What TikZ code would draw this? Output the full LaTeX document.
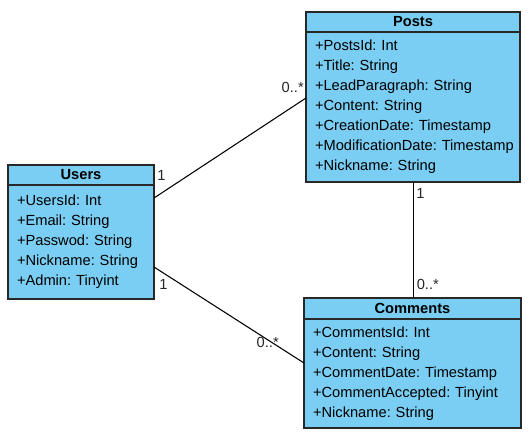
\documentclass[tikz,border=0pt]{standalone}
\usepackage{fontspec}
\setmainfont{Liberation Sans}
\usepackage{tikz}
\usetikzlibrary{positioning}
\usetikzlibrary{calc}
\definecolor{umlblue}{RGB}{122,206,243}
\definecolor{umlline}{RGB}{40,40,40}
\frenchspacing
\hyphenpenalty=10000

\begin{document}
\begin{tikzpicture}
  [x=0.75pt,y=-0.75pt,
  classhead/.style={rectangle,draw=umlline,fill=umlblue,line width=1pt,inner sep=0pt,outer sep=0pt,font=\fontsize{11}{13}\selectfont\bfseries,anchor=north west},
  classbody/.style={rectangle,draw=umlline,fill=umlblue,line width=1pt,inner xsep=6.75pt,inner ysep=0pt,outer sep=0pt,align=left,font=\fontsize{11}{15}\selectfont},
  assoc/.style={draw=black,line width=0.8pt},
  mult/.style={inner sep=0pt,font=\fontsize{11}{13}\selectfont,text=black!85}]
  \useasboundingbox (0,0) rectangle (530,440);

  \node[classhead,minimum width=160.5pt,minimum height=15pt] (phead) at (306,12) {Posts};
  \node[classbody,below=0pt of phead,text width=147pt,minimum height=112.5pt] (pbody)
    {+PostsId:~Int\\+Title:~String\\+LeadParagraph:~String\\+Content:~String\\+CreationDate:~Timestamp\\+ModificationDate:~Timestamp\\+Nickname:~String};

  \node[classhead,minimum width=109.5pt,minimum height=15pt] (uhead) at (8,165) {Users};
  \node[classbody,below=0pt of uhead,text width=96pt,minimum height=85.5pt] (ubody)
    {+UsersId:~Int\\+Email:~String\\+Passwod:~String\\+Nickname:~String\\+Admin:~Tinyint};

  \node[classhead,minimum width=162.75pt,minimum height=15.75pt] (chead) at (304,298) {Comments};
  \node[classbody,below=0pt of chead,text width=149.25pt,minimum height=81.75pt] (cbody)
    {+CommentsId:~Int\\+Content:~String\\+CommentDate:~Timestamp\\+CommentAccepted:~Tinyint\\+Nickname:~String};

  \draw [assoc] ([shift={(0,13)}]ubody.north east) -- ([shift={(0,66)}]pbody.north west);
  \draw [assoc] ([shift={(0,82)}]ubody.north east) -- ([shift={(0,44)}]cbody.north west);
  \draw [assoc] ([shift={(0.5,0)}]pbody.south) -- ([shift={(0.5,0)}]pbody.south |- chead.north);

  \node[mult,anchor=south west] (m1) at ([shift={(3,-4)}]ubody.north east) {1};
  \node[mult,anchor=south east] (m2) at ([shift={(-2,61)}]pbody.north west) {0..*};
  \node[mult,anchor=south west] (m3) at ([shift={(5,-9)}]ubody.south east) {1};
  \node[mult,anchor=south east] (m4) at ([shift={(-25,29)}]cbody.north west) {0..*};
  \node[mult,anchor=north west] (m5) at ([shift={(3,6)}]pbody.south) {1};
  \node[mult,anchor=south west] (m6) at ([shift={(4,-8)}]chead.north) {0..*};

  \end{tikzpicture}
\end{document}
